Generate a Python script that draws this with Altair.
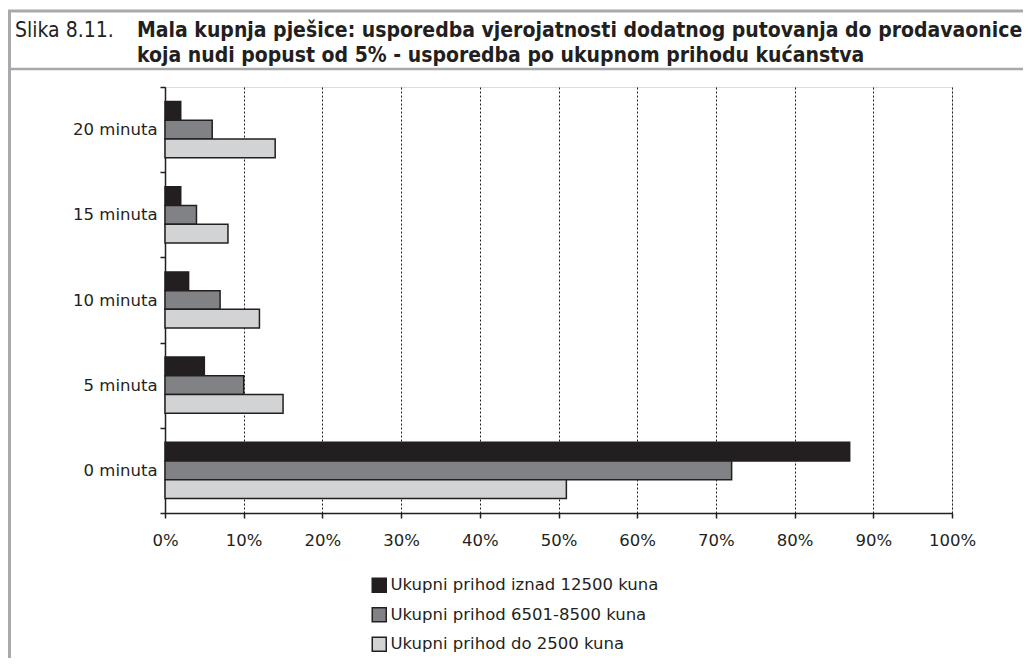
import altair as alt
import pandas as pd

categories = ["20 minuta", "15 minuta", "10 minuta", "5 minuta", "0 minuta"]
series = [
    "Ukupni prihod iznad 12500 kuna",
    "Ukupni prihod 6501-8500 kuna",
    "Ukupni prihod do 2500 kuna",
]
high_income = [2, 2, 3, 5, 87]
mid_income = [6, 4, 7, 10, 72]
low_income = [14, 8, 12, 15, 51]
x_ticks = [0, 10, 20, 30, 40, 50, 60, 70, 80, 90, 100]

title_prefix = "Slika 8.11."
title_line1 = "Mala kupnja pješice: usporedba vjerojatnosti dodatnog putovanja do prodavaonice"
title_line2 = "koja nudi popust od 5% - usporedba po ukupnom prihodu kućanstva"

colors = ["#231f20", "#808285", "#d1d3d4"]
DARK = "#231f20"
FRAME = "#a7a9ac"
FONT = "DejaVu Sans"
TFONT = "DejaVu Sans Condensed, Liberation Sans Narrow, Liberation Sans"

rows = []
for s, vals in zip(series, [high_income, mid_income, low_income]):
    for c, v in zip(categories, vals):
        rows.append({"cat": c, "series": s, "value": v})
df = pd.DataFrame(rows)

bars = alt.Chart(df).mark_bar(stroke=DARK, strokeWidth=1.5).encode(
    y=alt.Y(
        "cat:N",
        sort=categories,
        title=None,
        scale=alt.Scale(paddingInner=0, paddingOuter=0),
        axis=alt.Axis(
            tickBand="extent",
            tickSize=5,
            tickColor=DARK,
            tickWidth=1.5,
            domainColor=DARK,
            domainWidth=1.5,
            labelFont=FONT,
            labelFontSize=16.5,
            labelColor=DARK,
            labelPadding=3,
            grid=False,
        ),
    ),
    yOffset=alt.YOffset(
        "series:N", sort=series, scale=alt.Scale(paddingInner=0, paddingOuter=0.775)
    ),
    x=alt.X(
        "value:Q",
        title=None,
        scale=alt.Scale(domain=[0, 100], nice=False),
        axis=alt.Axis(
            values=x_ticks,
            labelExpr="datum.value + '%'",
            labelFlush=False,
            grid=True,
            gridColor=DARK,
            gridDash=[2, 2],
            gridWidth=1,
            tickSize=5,
            tickColor=DARK,
            tickWidth=1.5,
            domainColor=DARK,
            domainWidth=1.5,
            labelFont=FONT,
            labelFontSize=16.5,
            labelColor=DARK,
            labelPadding=14,
        ),
    ),
    color=alt.Color(
        "series:N",
        scale=alt.Scale(domain=series, range=colors),
        legend=alt.Legend(
            title=None,
            orient="none",
            legendX=206,
            legendY=490,
            symbolType="square",
            symbolSize=196,
            symbolStrokeColor=DARK,
            symbolStrokeWidth=1.5,
            labelFont=FONT,
            labelFontSize=16.5,
            labelColor=DARK,
            labelOffset=3,
            rowPadding=8.5,
            labelLimit=500,
        ),
    ),
)

one = pd.DataFrame({"k": [0]})

top_line = alt.Chart(one).mark_rule(color=FRAME, strokeWidth=3).encode(
    x=alt.value(-157), x2=alt.value(870), y=alt.value(-76)
)
sep_line = alt.Chart(one).mark_rule(color=FRAME, strokeWidth=2.5).encode(
    x=alt.value(-157), x2=alt.value(870), y=alt.value(-18)
)
left_line = alt.Chart(one).mark_rule(color=FRAME, strokeWidth=3).encode(
    x=alt.value(-155.5), y=alt.value(-77), y2=alt.value(600)
)

t0 = alt.Chart(pd.DataFrame({"t": [title_prefix]})).mark_text(
    align="left", baseline="alphabetic", font=TFONT, fontSize=21, color=DARK
).encode(text="t:N", x=alt.value(-150), y=alt.value(-50))
t1 = alt.Chart(pd.DataFrame({"t": [title_line1]})).mark_text(
    align="left", baseline="alphabetic", font=TFONT, fontSize=21, fontWeight="bold", color=DARK
).encode(text="t:N", x=alt.value(-28), y=alt.value(-50))
t2 = alt.Chart(pd.DataFrame({"t": [title_line2]})).mark_text(
    align="left", baseline="alphabetic", font=TFONT, fontSize=21, fontWeight="bold", color=DARK
).encode(text="t:N", x=alt.value(-28), y=alt.value(-25))

chart = (
    alt.layer(bars, top_line, sep_line, left_line, t0, t1, t2)
    .properties(
        width=787,
        height=426,
        autosize=alt.AutoSizeParams(type="none"),
        padding={"left": 157, "top": 79, "right": 71, "bottom": 145},
    )
    .configure_view(stroke=DARK, strokeWidth=1.5)
    .configure(background="white")
)

chart.save("out.html", embed_options={"renderer": "svg", "actions": False})
